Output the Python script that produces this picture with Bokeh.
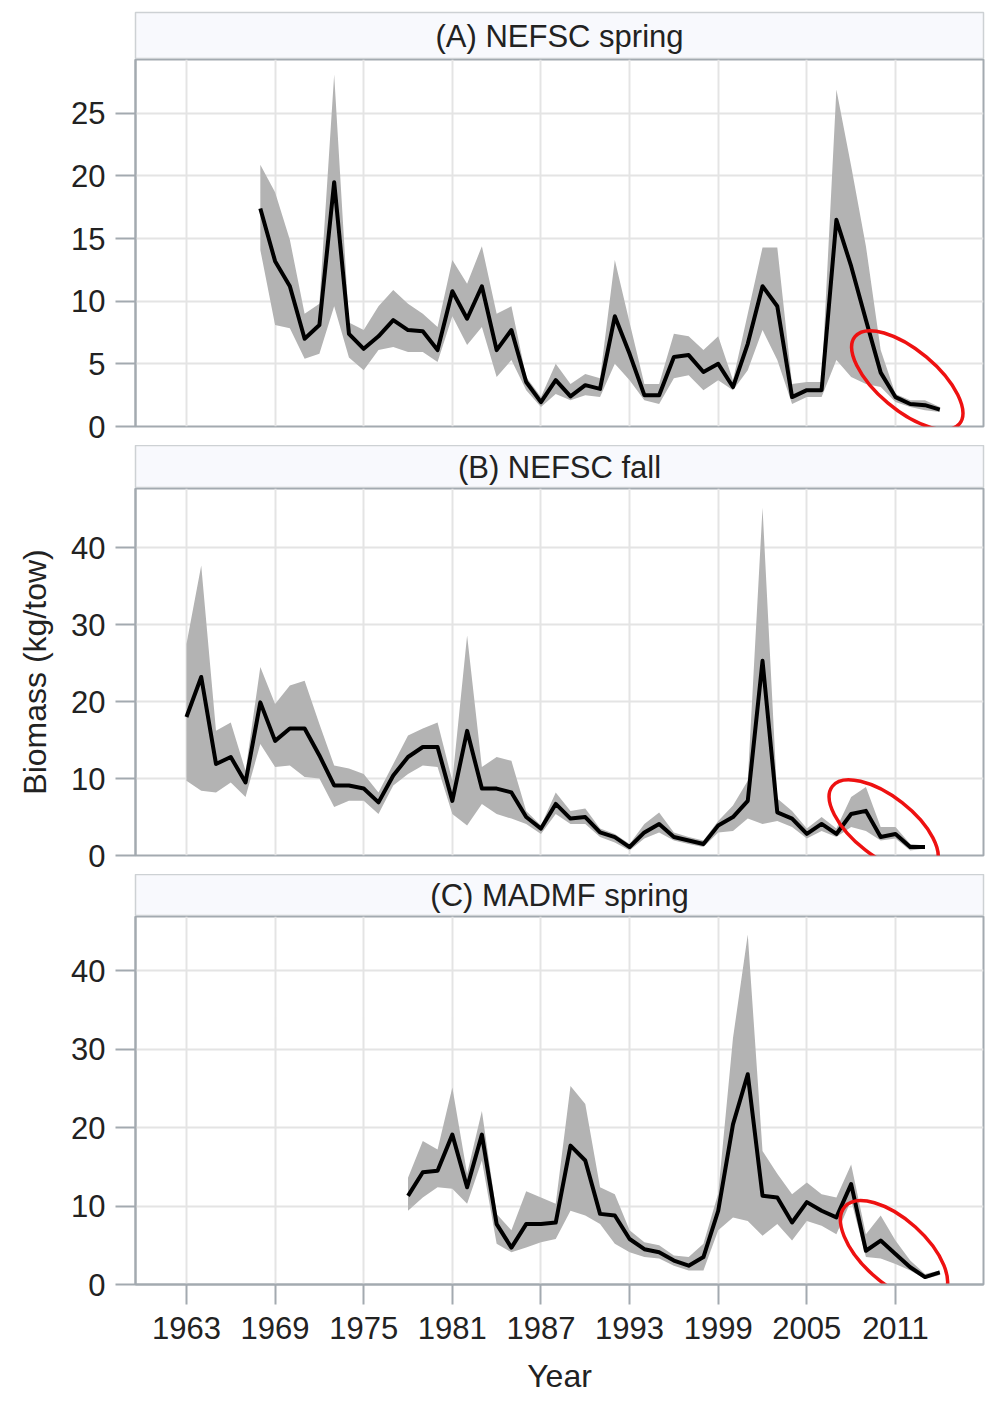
from bokeh.plotting import figure
from bokeh.layouts import column
from bokeh.models import Range1d, FixedTicker
from bokeh.core.properties import value
from bokeh.embed import file_html
from bokeh.resources import INLINE
import math

# ---------------- data ----------------
titles = ["(A) NEFSC spring", "(B) NEFSC fall", "(C) MADMF spring"]
x_ticks = [1963, 1969, 1975, 1981, 1987, 1993, 1999, 2005, 2011]

years_a = list(range(1968, 2015))
mean_a = [17.4, 13.2, 11.2, 7.0, 8.1, 19.5, 7.4, 6.2, 7.2, 8.5, 7.7, 7.6, 6.1, 10.8, 8.6, 11.2,
          6.1, 7.7, 3.55, 1.95, 3.7, 2.4, 3.3, 3.0, 8.8, 5.8, 2.5, 2.5, 5.55, 5.7, 4.35, 5.0,
          3.15, 6.6, 11.2, 9.6, 2.35, 2.9, 2.9, 16.5, 12.8, 8.5, 4.3, 2.35, 1.8, 1.7, 1.35]
upper_a = [20.9, 18.7, 14.9, 9.0, 9.8, 28.1, 8.3, 7.7, 9.6, 10.9, 9.8, 9.0, 7.95, 13.3, 11.4, 14.4,
           9.0, 9.6, 3.95, 2.35, 5.0, 3.4, 4.2, 3.85, 13.3, 8.3, 3.4, 3.4, 7.4, 7.2, 6.1, 7.2,
           3.7, 9.0, 14.3, 14.3, 3.4, 3.55, 3.55, 26.9, 20.8, 14.4, 6.1, 2.6, 2.1, 2.1, 1.55]
lower_a = [14.1, 8.1, 7.85, 5.4, 5.8, 9.6, 5.5, 4.5, 6.1, 6.35, 5.95, 5.95, 5.15, 8.8, 6.5, 7.95,
           3.95, 5.3, 2.9, 1.55, 2.6, 2.1, 2.5, 2.35, 5.0, 3.7, 2.1, 1.8, 3.85, 4.1, 2.9, 3.7,
           2.9, 4.5, 7.7, 5.3, 1.8, 2.35, 2.35, 5.3, 3.95, 3.4, 3.15, 1.95, 1.55, 1.3, 1.15]
yticks_a = [0, 5, 10, 15, 20, 25]

years_b = list(range(1963, 2014))
mean_b = [18.0, 23.2, 11.9, 12.8, 9.5, 19.9, 14.9, 16.5, 16.5, 13.0, 9.1, 9.1, 8.7, 6.9, 10.4,
          12.8, 14.1, 14.1, 7.1, 16.2, 8.7, 8.7, 8.2, 5.0, 3.5, 6.7, 4.8, 5.0, 3.0, 2.4, 1.1,
          3.0, 4.1, 2.4, 1.95, 1.5, 3.9, 5.0, 7.1, 25.3, 5.6, 4.8, 2.8, 4.1, 2.8, 5.4, 5.8,
          2.4, 2.8, 1.1, 1.1]
upper_b = [27.5, 37.7, 16.2, 17.3, 11.0, 24.5, 19.7, 22.1, 22.7, 17.1, 11.7, 11.3, 10.6, 8.2, 11.9,
           15.6, 16.5, 17.3, 9.7, 28.6, 11.5, 12.8, 12.3, 5.8, 3.9, 8.2, 5.8, 6.1, 3.5, 2.8, 1.5,
           4.1, 5.6, 3.0, 2.4, 1.95, 4.5, 6.5, 9.7, 45.2, 7.4, 5.8, 3.5, 5.0, 3.5, 7.6, 8.9,
           3.7, 3.7, 1.5, 1.3]
lower_b = [9.7, 8.4, 8.2, 9.5, 7.6, 14.5, 11.5, 11.7, 10.2, 10.0, 6.3, 7.1, 7.1, 5.4, 9.1,
           10.6, 11.7, 11.5, 5.4, 3.9, 6.7, 5.4, 4.8, 4.1, 2.8, 5.4, 4.1, 4.1, 2.4, 1.7, 0.65,
           2.2, 3.0, 1.95, 1.5, 1.1, 3.0, 3.2, 4.8, 4.1, 4.5, 3.7, 2.2, 3.2, 2.4, 3.7, 3.2,
           1.95, 2.2, 0.65, 0.9]
yticks_b = [0, 10, 20, 30, 40]

years_c = list(range(1978, 2015))
mean_c = [11.3, 14.3, 14.5, 19.1, 12.4, 19.1, 7.7, 4.7, 7.7, 7.7, 7.9, 17.7, 15.8, 9.0, 8.8,
          5.8, 4.5, 4.1, 3.05, 2.4, 3.5, 9.4, 20.4, 26.8, 11.3, 11.1, 7.9, 10.5, 9.4, 8.55,
          12.8, 4.3, 5.6, 3.9, 2.2, 0.95, 1.55]
upper_c = [13.6, 18.3, 17.2, 25.1, 14.1, 22.1, 9.0, 6.9, 11.9, 11.1, 10.3, 25.3, 23.0, 12.4, 11.5,
           6.9, 5.4, 5.0, 3.7, 3.5, 5.2, 11.6, 31.4, 44.6, 17.0, 14.1, 11.5, 13.0, 11.5, 11.1,
           15.3, 6.4, 8.8, 5.6, 3.05, 1.35, 1.8]
lower_c = [9.4, 11.1, 12.4, 12.2, 10.3, 15.8, 5.2, 4.1, 4.7, 5.4, 5.8, 9.4, 8.8, 7.7, 5.2,
           4.1, 3.5, 3.3, 2.4, 1.8, 1.8, 6.9, 8.55, 8.1, 6.2, 7.7, 5.6, 8.1, 7.5, 6.4,
           10.7, 3.5, 3.3, 2.6, 1.8, 0.7, 1.2]
yticks_c = [0, 10, 20, 30, 40]

# ---------------- styling / layout ----------------
FONT = "Liberation Sans"
FW = 848
ML = 135
MR = 2
GAP = 19
AXIS_GREY = "#a3aab0"
GRID_GREY = "#e4e4e4"
TEXT_COL = "#222222"
BAND = "#b3b3b3"

x_range = Range1d(1959.55, 2016.96)
x_mid = (1959.55 + 2016.96) / 2


def header(title, top_pad, fh):
    p = figure(frame_width=FW, frame_height=fh, x_range=x_range, y_range=Range1d(0, 1),
               x_axis_type=None, y_axis_type=None, toolbar_location=None,
               output_backend="svg", min_border_left=ML, min_border_right=MR,
               min_border_top=top_pad, min_border_bottom=0)
    p.background_fill_color = "#f8f9fd"
    p.border_fill_color = "white"
    p.outline_line_color = "#cdd1d4"
    p.outline_line_width = 1.5
    p.text(x=[x_mid], y=[0.5], text=[title], text_align="center", text_baseline="middle",
           text_font=value(FONT), text_font_size="31px", text_color=TEXT_COL)
    return p


def panel(years, mean, lower, upper, ymax, yticks, fh, show_x, ylabel, ell):
    p = figure(frame_width=FW, frame_height=fh, x_range=x_range, y_range=Range1d(0, ymax),
               toolbar_location=None, output_backend="svg",
               x_axis_location="below" if show_x else None,
               min_border_left=ML, min_border_right=MR, min_border_top=0,
               min_border_bottom=0 if show_x else GAP)
    p.background_fill_color = "white"
    p.border_fill_color = "white"
    p.outline_line_color = AXIS_GREY
    p.outline_line_width = 2

    p.xgrid.ticker = FixedTicker(ticks=x_ticks)
    p.ygrid.ticker = FixedTicker(ticks=yticks)
    for g in (p.xgrid, p.ygrid):
        g.grid_line_color = GRID_GREY
        g.grid_line_width = 2

    p.varea(x=years, y1=lower, y2=upper, fill_color=BAND, fill_alpha=1.0)
    p.line(x=years, y=mean, line_color="black", line_width=4, line_join="round")

    cx, cy, a, b, ang = ell
    p.ellipse(x=[cx], y=[cy], width=[2 * a], height=[2 * b], angle=[-math.radians(ang)],
              width_units="screen", height_units="screen", fill_alpha=0,
              line_color="#ee1111", line_width=3.5)

    axes = [p.yaxis[0]] + ([p.xaxis[0]] if show_x else [])
    for ax in axes:
        ax.axis_line_color = AXIS_GREY
        ax.axis_line_width = 2
        ax.major_tick_line_color = AXIS_GREY
        ax.major_tick_line_width = 2
        ax.major_tick_out = 20
        ax.major_tick_in = 0
        ax.minor_tick_line_color = None
        ax.major_label_text_font = FONT
        ax.major_label_text_font_size = "31px"
        ax.major_label_text_color = TEXT_COL
        ax.axis_label_text_font = FONT
        ax.axis_label_text_font_size = "32px"
        ax.axis_label_text_font_style = "normal"
        ax.axis_label_text_color = TEXT_COL
    p.yaxis.ticker = FixedTicker(ticks=yticks)
    p.yaxis.major_label_standoff = 10
    if ylabel:
        p.yaxis.axis_label = ylabel
        p.yaxis.axis_label_standoff = 15
    if show_x:
        p.xaxis.ticker = FixedTicker(ticks=x_ticks)
        p.xaxis.major_label_standoff = 12
        p.xaxis.axis_label = "Year"
        p.xaxis.axis_label_standoff = 16
    return p


h_a = header(titles[0], 12, 47)
p_a = panel(years_a, mean_a, lower_a, upper_a, 29.3, yticks_a, 367, False, None,
            (2011.8, 3.7, 68, 30, 40))
h_b = header(titles[1], 0, 43)
p_b = panel(years_b, mean_b, lower_b, upper_b, 47.7, yticks_b, 367, False, "Biomass (kg/tow)",
            (2010.2, 3.8, 65, 30, 38))
h_c = header(titles[2], 0, 42)
p_c = panel(years_c, mean_c, lower_c, upper_c, 46.9, yticks_c, 368, True, None,
            (2010.9, 4.3, 66, 32, 42))

layout = column(h_a, p_a, h_b, p_b, h_c, p_c, spacing=0)

open("out.html", "w").write(file_html(layout, INLINE))
